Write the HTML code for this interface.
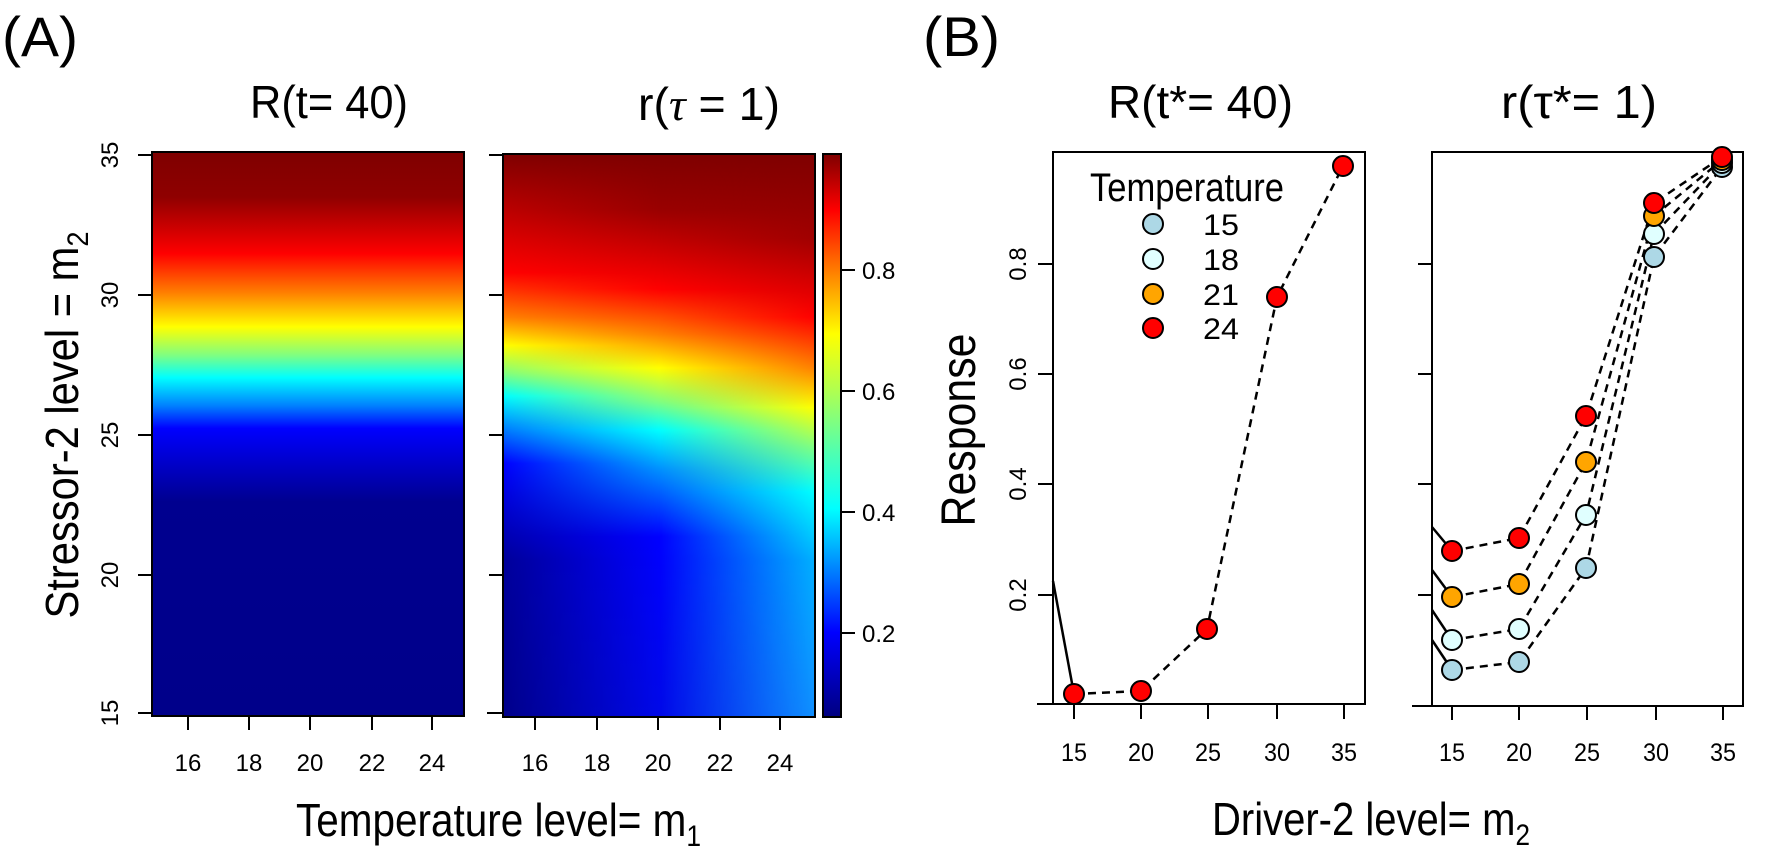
<!DOCTYPE html>
<html><head><meta charset="utf-8"><style>
html,body{margin:0;padding:0;background:#fff;}
svg{display:block;font-family:"Liberation Sans",sans-serif;}
</style></head><body>
<svg width="1773" height="866" viewBox="0 0 1773 866" xmlns="http://www.w3.org/2000/svg">
<defs>
<linearGradient id="gL" x1="0" y1="0" x2="0" y2="1">
<stop offset="0" stop-color="#7f0000"/><stop offset="0.08" stop-color="#8f0000"/>
<stop offset="0.18" stop-color="#ff0000"/><stop offset="0.25" stop-color="#ff8000"/>
<stop offset="0.31" stop-color="#ffff00"/><stop offset="0.36" stop-color="#80ff80"/>
<stop offset="0.40" stop-color="#00ffff"/><stop offset="0.45" stop-color="#0080ff"/>
<stop offset="0.49" stop-color="#0000ff"/><stop offset="0.62" stop-color="#00008f"/>
<stop offset="1" stop-color="#00008a"/></linearGradient>
<linearGradient id="g0" x1="0" y1="0" x2="0" y2="1">
<stop offset="0" stop-color="#7f0000"/><stop offset="0.21" stop-color="#ff0000"/>
<stop offset="0.29" stop-color="#ff8000"/><stop offset="0.34" stop-color="#ffff00"/>
<stop offset="0.39" stop-color="#80ff80"/><stop offset="0.43" stop-color="#00ffff"/>
<stop offset="0.48" stop-color="#0090ff"/><stop offset="0.55" stop-color="#0000ff"/>
<stop offset="0.72" stop-color="#00009a"/><stop offset="1" stop-color="#00008a"/></linearGradient>
<linearGradient id="g1" x1="0" y1="0" x2="0" y2="1">
<stop offset="0" stop-color="#7f0000"/><stop offset="0.10" stop-color="#9a0000"/>
<stop offset="0.24" stop-color="#ff0000"/><stop offset="0.32" stop-color="#ff8000"/>
<stop offset="0.38" stop-color="#ffff00"/><stop offset="0.44" stop-color="#80ff80"/>
<stop offset="0.49" stop-color="#00ffff"/><stop offset="0.56" stop-color="#0090ff"/>
<stop offset="0.68" stop-color="#0000ff"/><stop offset="1" stop-color="#0008e8"/></linearGradient>
<linearGradient id="g2" x1="0" y1="0" x2="0" y2="1">
<stop offset="0" stop-color="#7f0000"/><stop offset="0.15" stop-color="#a00000"/>
<stop offset="0.29" stop-color="#ff0000"/><stop offset="0.38" stop-color="#ff8000"/>
<stop offset="0.45" stop-color="#ffff00"/><stop offset="0.52" stop-color="#80ff80"/>
<stop offset="0.60" stop-color="#00ffff"/><stop offset="0.72" stop-color="#00b0ff"/>
<stop offset="1" stop-color="#1090ff"/></linearGradient>
<linearGradient id="cb" x1="0" y1="0" x2="0" y2="1">
<stop offset="0" stop-color="#7f0000"/><stop offset="0.10" stop-color="#ff0000"/>
<stop offset="0.21" stop-color="#ff8000"/><stop offset="0.32" stop-color="#ffff00"/>
<stop offset="0.42" stop-color="#b0ff50"/><stop offset="0.53" stop-color="#50ffb0"/>
<stop offset="0.63" stop-color="#00ffff"/><stop offset="0.74" stop-color="#0080ff"/>
<stop offset="0.85" stop-color="#0000ff"/><stop offset="1" stop-color="#000080"/></linearGradient>
<linearGradient id="mMid" x1="0" y1="0" x2="1" y2="0">
<stop offset="0" stop-color="#fff" stop-opacity="0"/><stop offset="0.5" stop-color="#fff" stop-opacity="1"/><stop offset="1" stop-color="#fff" stop-opacity="1"/></linearGradient>
<linearGradient id="mR" x1="0" y1="0" x2="1" y2="0">
<stop offset="0.5" stop-color="#fff" stop-opacity="0"/><stop offset="1" stop-color="#fff" stop-opacity="1"/></linearGradient>
<mask id="maskMid" maskUnits="userSpaceOnUse" x="503" y="154" width="312" height="563"><rect x="503" y="154" width="312" height="563" fill="url(#mMid)"/></mask>
<mask id="maskR" maskUnits="userSpaceOnUse" x="503" y="154" width="312" height="563"><rect x="503" y="154" width="312" height="563" fill="url(#mR)"/></mask>
</defs>

<text x="2" y="56" font-size="56" textLength="76" lengthAdjust="spacingAndGlyphs">(A)</text>
<text x="923" y="56" font-size="56" textLength="77" lengthAdjust="spacingAndGlyphs">(B)</text>

<text x="250" y="118" font-size="46" textLength="158" lengthAdjust="spacingAndGlyphs">R(t= 40)</text>
<text x="638" y="120" font-size="46" textLength="142" lengthAdjust="spacingAndGlyphs">r(<tspan font-family="Liberation Serif" font-style="italic">τ</tspan> = 1)</text>
<text x="1108" y="118" font-size="46" textLength="185" lengthAdjust="spacingAndGlyphs">R(t*= 40)</text>
<text x="1501" y="118" font-size="46" textLength="156" lengthAdjust="spacingAndGlyphs">r(τ*= 1)</text>

<rect x="152" y="152" width="312" height="564" fill="url(#gL)" stroke="#000" stroke-width="2"/>
<rect x="503" y="154" width="312" height="563" fill="url(#g0)"/>
<rect x="503" y="154" width="312" height="563" fill="url(#g1)" mask="url(#maskMid)"/>
<rect x="503" y="154" width="312" height="563" fill="url(#g2)" mask="url(#maskR)"/>
<rect x="503" y="154" width="312" height="563" fill="none" stroke="#000" stroke-width="2"/>
<rect x="823" y="154" width="18" height="563" fill="url(#cb)" stroke="#000" stroke-width="2"/>
<g stroke="#000" stroke-width="2">
<line x1="841" y1="270" x2="855" y2="270"/><line x1="841" y1="391" x2="855" y2="391"/>
<line x1="841" y1="512" x2="855" y2="512"/><line x1="841" y1="633" x2="855" y2="633"/>
</g>
<g font-size="24">
<text x="862" y="279">0.8</text><text x="862" y="400">0.6</text>
<text x="862" y="521">0.4</text><text x="862" y="642">0.2</text>
</g>

<g stroke="#000" stroke-width="2">
<line x1="138" y1="155" x2="152" y2="155"/><line x1="138" y1="295" x2="152" y2="295"/>
<line x1="138" y1="435" x2="152" y2="435"/><line x1="138" y1="575" x2="152" y2="575"/>
<line x1="138" y1="713" x2="152" y2="713"/>
<line x1="489" y1="155" x2="503" y2="155"/><line x1="489" y1="295" x2="503" y2="295"/>
<line x1="489" y1="435" x2="503" y2="435"/><line x1="489" y1="575" x2="503" y2="575"/>
<line x1="487" y1="713" x2="503" y2="713"/>
</g>
<g font-size="24" text-anchor="middle">
<text transform="translate(118,155) rotate(-90)">35</text>
<text transform="translate(118,295) rotate(-90)">30</text>
<text transform="translate(118,435) rotate(-90)">25</text>
<text transform="translate(118,575) rotate(-90)">20</text>
<text transform="translate(118,713) rotate(-90)">15</text>
</g>
<text transform="translate(78,425) rotate(-90)" font-size="46" text-anchor="middle" textLength="387" lengthAdjust="spacingAndGlyphs">Stressor-2 level = m<tspan font-size="30" dy="10">2</tspan></text>

<g stroke="#000" stroke-width="2">
<line x1="188" y1="716" x2="188" y2="730"/><line x1="249" y1="716" x2="249" y2="730"/>
<line x1="310" y1="716" x2="310" y2="730"/><line x1="372" y1="716" x2="372" y2="730"/>
<line x1="432" y1="716" x2="432" y2="730"/>
<line x1="535" y1="717" x2="535" y2="730"/><line x1="597" y1="717" x2="597" y2="730"/>
<line x1="658" y1="717" x2="658" y2="730"/><line x1="720" y1="717" x2="720" y2="730"/>
<line x1="780" y1="717" x2="780" y2="730"/>
</g>
<g font-size="24" text-anchor="middle">
<text x="188" y="771">16</text><text x="249" y="771">18</text><text x="310" y="771">20</text>
<text x="372" y="771">22</text><text x="432" y="771">24</text>
<text x="535" y="771">16</text><text x="597" y="771">18</text><text x="658" y="771">20</text>
<text x="720" y="771">22</text><text x="780" y="771">24</text>
</g>
<text x="296" y="836" font-size="46" textLength="405" lengthAdjust="spacingAndGlyphs">Temperature level= m<tspan font-size="30" dy="10">1</tspan></text>

<rect x="1053" y="152" width="312" height="552" fill="none" stroke="#000" stroke-width="2"/>
<g stroke="#000" stroke-width="2">
<line x1="1037" y1="704" x2="1053" y2="704"/>
<line x1="1038" y1="264" x2="1053" y2="264"/><line x1="1038" y1="374" x2="1053" y2="374"/>
<line x1="1038" y1="484" x2="1053" y2="484"/><line x1="1038" y1="595" x2="1053" y2="595"/>
<line x1="1074" y1="704" x2="1074" y2="719"/><line x1="1141" y1="704" x2="1141" y2="719"/>
<line x1="1208" y1="704" x2="1208" y2="719"/><line x1="1277" y1="704" x2="1277" y2="719"/>
<line x1="1344" y1="704" x2="1344" y2="719"/>
<line x1="1412" y1="706" x2="1432" y2="706"/>
<line x1="1418" y1="264" x2="1432" y2="264"/><line x1="1418" y1="374" x2="1432" y2="374"/>
<line x1="1418" y1="484" x2="1432" y2="484"/><line x1="1418" y1="595" x2="1432" y2="595"/>
<line x1="1452" y1="706" x2="1452" y2="720"/><line x1="1519" y1="706" x2="1519" y2="720"/>
<line x1="1587" y1="706" x2="1587" y2="720"/><line x1="1656" y1="706" x2="1656" y2="720"/>
<line x1="1723" y1="706" x2="1723" y2="720"/>
</g>
<g font-size="24" text-anchor="middle">
<text transform="translate(1026,264) rotate(-90)">0.8</text>
<text transform="translate(1026,374) rotate(-90)">0.6</text>
<text transform="translate(1026,484) rotate(-90)">0.4</text>
<text transform="translate(1026,595) rotate(-90)">0.2</text>
</g>
<text transform="translate(975,430) rotate(-90)" font-size="48" text-anchor="middle" textLength="193" lengthAdjust="spacingAndGlyphs">Response</text>
<g font-size="25" text-anchor="middle">
<text x="1074" y="761" textLength="26" lengthAdjust="spacingAndGlyphs">15</text>
<text x="1141" y="761" textLength="26" lengthAdjust="spacingAndGlyphs">20</text>
<text x="1208" y="761" textLength="26" lengthAdjust="spacingAndGlyphs">25</text>
<text x="1277" y="761" textLength="26" lengthAdjust="spacingAndGlyphs">30</text>
<text x="1344" y="761" textLength="26" lengthAdjust="spacingAndGlyphs">35</text>
<text x="1452" y="761" textLength="26" lengthAdjust="spacingAndGlyphs">15</text>
<text x="1519" y="761" textLength="26" lengthAdjust="spacingAndGlyphs">20</text>
<text x="1587" y="761" textLength="26" lengthAdjust="spacingAndGlyphs">25</text>
<text x="1656" y="761" textLength="26" lengthAdjust="spacingAndGlyphs">30</text>
<text x="1723" y="761" textLength="26" lengthAdjust="spacingAndGlyphs">35</text>
</g>
<text x="1212" y="835" font-size="46" textLength="318" lengthAdjust="spacingAndGlyphs">Driver-2 level= m<tspan font-size="30" dy="10">2</tspan></text>

<g stroke="#000" stroke-width="2.5" fill="none">
<line x1="1053" y1="581" x2="1074" y2="694"/>
<polyline stroke-dasharray="8,6" points="1074,694 1141,691 1207,629 1277,297 1343,166"/>
</g>
<g stroke="#000" stroke-width="2" fill="#ff0000">
<circle cx="1074" cy="694" r="10"/><circle cx="1141" cy="691" r="10"/>
<circle cx="1207" cy="629" r="10"/><circle cx="1277" cy="297" r="10"/><circle cx="1343" cy="166" r="10"/>
</g>
<text x="1090" y="201" font-size="40" textLength="194" lengthAdjust="spacingAndGlyphs">Temperature</text>
<g stroke="#000" stroke-width="2">
<circle cx="1153" cy="224" r="10" fill="#add8e6"/><circle cx="1153" cy="259" r="10" fill="#e0ffff"/>
<circle cx="1153" cy="294" r="10" fill="#ffa500"/><circle cx="1153" cy="328" r="10" fill="#ff0000"/>
</g>
<g font-size="30">
<text x="1203" y="235" textLength="36" lengthAdjust="spacingAndGlyphs">15</text>
<text x="1203" y="270" textLength="36" lengthAdjust="spacingAndGlyphs">18</text>
<text x="1203" y="305" textLength="36" lengthAdjust="spacingAndGlyphs">21</text>
<text x="1203" y="339" textLength="36" lengthAdjust="spacingAndGlyphs">24</text>
</g>

<rect x="1432" y="152" width="311" height="554" fill="none" stroke="#000" stroke-width="2"/>
<g stroke="#000" stroke-width="2.5" fill="none">
<line x1="1432" y1="527" x2="1452" y2="551"/>
<line x1="1432" y1="570" x2="1452" y2="597"/>
<line x1="1432" y1="610" x2="1452" y2="640"/>
<line x1="1432" y1="640" x2="1452" y2="670"/>
<g stroke-dasharray="8,6">
<polyline points="1452,551 1519,538 1586,416 1654,203 1722,157"/>
<polyline points="1452,597 1519,584 1586,462 1654,216 1722,160"/>
<polyline points="1452,640 1519,629 1586,515 1654,234 1722,163"/>
<polyline points="1452,670 1519,662 1586,568 1654,257 1722,167"/>
</g>
</g>
<g stroke="#000" stroke-width="2">
<g fill="#add8e6"><circle cx="1452" cy="670" r="10"/><circle cx="1519" cy="662" r="10"/><circle cx="1586" cy="568" r="10"/><circle cx="1654" cy="257" r="10"/><circle cx="1722" cy="167" r="10"/></g>
<g fill="#e0ffff"><circle cx="1452" cy="640" r="10"/><circle cx="1519" cy="629" r="10"/><circle cx="1586" cy="515" r="10"/><circle cx="1654" cy="234" r="10"/><circle cx="1722" cy="163" r="10"/></g>
<g fill="#ffa500"><circle cx="1452" cy="597" r="10"/><circle cx="1519" cy="584" r="10"/><circle cx="1586" cy="462" r="10"/><circle cx="1654" cy="216" r="10"/><circle cx="1722" cy="160" r="10"/></g>
<g fill="#ff0000"><circle cx="1452" cy="551" r="10"/><circle cx="1519" cy="538" r="10"/><circle cx="1586" cy="416" r="10"/><circle cx="1654" cy="203" r="10"/><circle cx="1722" cy="157" r="10"/></g>
</g>
</svg>
</body></html>
